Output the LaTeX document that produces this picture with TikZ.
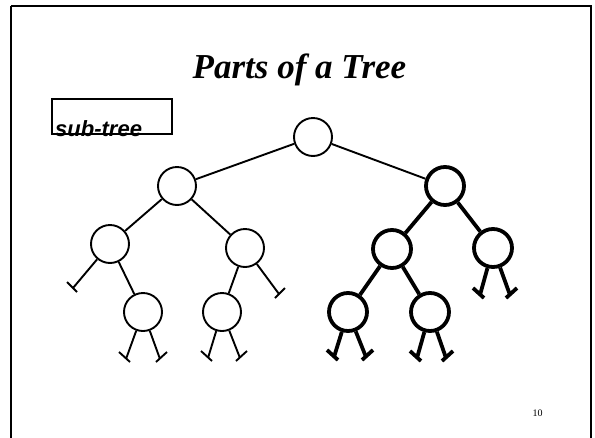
\documentclass[tikz,border=0pt]{standalone}
\usepackage{fontspec}
\setmainfont{Liberation Serif}
\newfontfamily\arialfont{Liberation Sans}
\begin{document}
\begin{tikzpicture}[x=1pt,y=-1pt,
  treenode/.style={circle,draw,line width=1.9pt,minimum size=38pt,inner sep=0pt},
  boldnode/.style={treenode,line width=3.8pt},
  thinedge/.style={line width=1.9pt},
  boldedge/.style={line width=3.8pt},
]
\useasboundingbox (0,0) rectangle (595,437);
\clip (0,0) rectangle (595,437);

% slide frame
\draw[line width=2pt] (11,5.5) -- (591,5.5) -- (591,445) (11,5.5) -- (11,445);

% title and page number
\node[anchor=base,font=\fontsize{35}{40}\selectfont\bfseries\itshape] (title) at (299.5,78) {Parts of a Tree};
\node[anchor=base,font=\fontsize{10}{12}\selectfont] (pagenum) at (537.5,416.5) {10};

% label box
\draw[line width=1.5pt] (52,99) rectangle (172,134);
\node[anchor=base west,inner sep=0pt,font=\arialfont\fontsize{22}{26}\selectfont\bfseries\itshape] (label) at (55,136) {sub-tree};

% nodes
\node[treenode] (root) at (313,137) {};
\node[treenode] (L)    at (177,186) {};
\node[boldnode] (R)    at (445,186) {};
\node[treenode] (LL)   at (110,244) {};
\node[treenode] (LR)   at (245,248) {};
\node[treenode] (LLR)  at (143,312) {};
\node[treenode] (LRL)  at (222,312) {};
\node[boldnode] (RL)   at (392,249) {};
\node[boldnode] (RR)   at (493,248) {};
\node[boldnode] (RLL)  at (348,312) {};
\node[boldnode] (RLR)  at (430,312) {};

% null-pointer ends
\coordinate (e1) at (73,288);
\coordinate (e2) at (126,359);
\coordinate (e3) at (160,359);
\coordinate (e4) at (208,358);
\coordinate (e5) at (240,358);
\coordinate (e6) at (279,294);
\coordinate (e7) at (334,357);
\coordinate (e8) at (366,357);
\coordinate (e9) at (417,358);
\coordinate (e10) at (446,358);
\coordinate (e11) at (480,295);
\coordinate (e12) at (510,295);

% thin part of the tree
\draw[thinedge] (root) -- (L);
\draw[thinedge] (root) -- (R);
\draw[thinedge] (L) -- (LL);
\draw[thinedge] (L) -- (LR);
\draw[thinedge] (LL) -- (LLR);
\draw[thinedge] (LR) -- (LRL);
\draw[thinedge] (LL) -- (e1);
\draw[thinedge] (LLR) -- (e2);
\draw[thinedge] (LLR) -- (e3);
\draw[thinedge] (LRL) -- (e4);
\draw[thinedge] (LRL) -- (e5);
\draw[thinedge] (LR) -- (e6);
\draw[thinedge] (e1) ++(-6,-6) -- ++(10,10);
\draw[thinedge] (e2) ++(-7,-7) -- ++(11,10);
\draw[thinedge] (e3) ++(7,-7) -- ++(-11,10);
\draw[thinedge] (e4) ++(-7,-7) -- ++(11,10);
\draw[thinedge] (e5) ++(7,-7) -- ++(-11,10);
\draw[thinedge] (e6) ++(6,-6) -- ++(-10,10);

% highlighted sub-tree
\draw[boldedge] (R) -- (RL);
\draw[boldedge] (R) -- (RR);
\draw[boldedge] (RL) -- (RLL);
\draw[boldedge] (RL) -- (RLR);
\draw[boldedge] (RLL) -- (e7);
\draw[boldedge] (RLL) -- (e8);
\draw[boldedge] (RLR) -- (e9);
\draw[boldedge] (RLR) -- (e10);
\draw[boldedge] (RR) -- (e11);
\draw[boldedge] (RR) -- (e12);
\draw[boldedge] (e7) ++(-7,-7) -- ++(11,10);
\draw[boldedge] (e8) ++(7,-7) -- ++(-11,10);
\draw[boldedge] (e9) ++(-7,-7) -- ++(11,10);
\draw[boldedge] (e10) ++(7,-7) -- ++(-11,10);
\draw[boldedge] (e11) ++(-7,-7) -- ++(11,10);
\draw[boldedge] (e12) ++(7,-7) -- ++(-11,10);
\end{tikzpicture}
\end{document}
